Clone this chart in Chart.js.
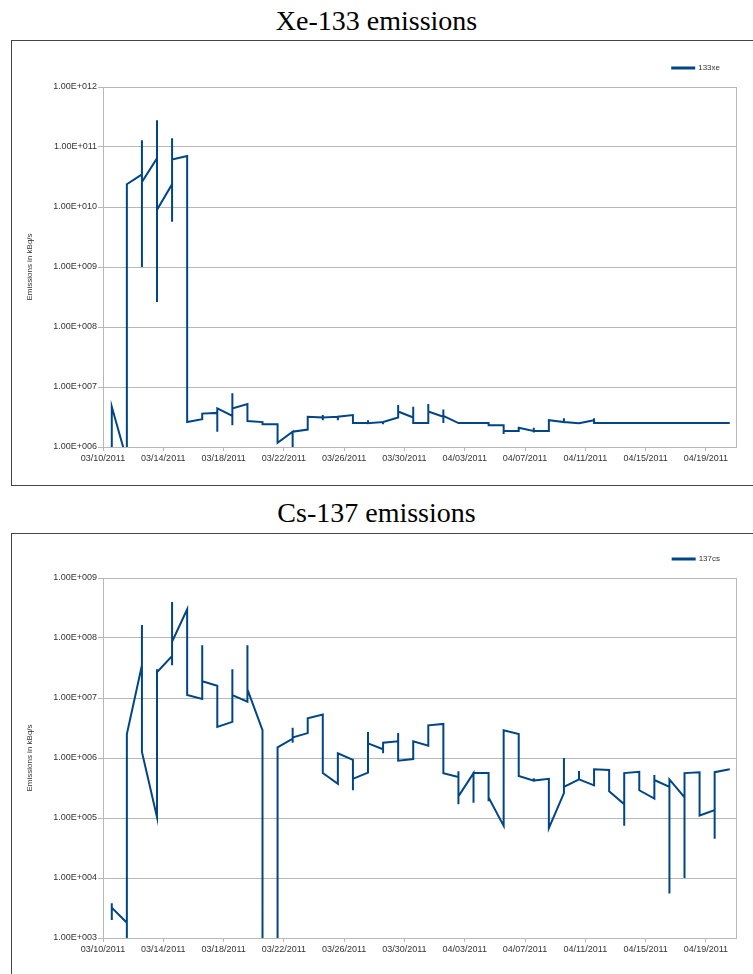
<!DOCTYPE html>
<html>
<head>
<meta charset="utf-8">
<title>Xe-133 / Cs-137 emissions</title>
<script src="https://cdn.jsdelivr.net/npm/chart.js@4.4.1/dist/chart.umd.min.js"></script>
<style>
  body { margin: 0; background: #fff; width: 753px; height: 974px; overflow: hidden; position: relative; }
  .titulo { position: absolute; left: 0; width: 753px; text-align: center; font-family: 'Liberation Serif', 'DejaVu Serif', serif; font-size: 28px; line-height: 30px; color: #000; }
  .marco { position: absolute; left: 11px; width: 760px; border: 1px solid #444; box-sizing: border-box; }
  .lienzo { position: absolute; left: 12px; }
</style>
</head>
<body>
<div class="titulo" style="top:6px;">Xe-133 emissions</div>
<div class="marco" style="top:40px; height:446px;"></div>
<div class="lienzo" style="top:48px; width:741px; height:419px;"><canvas id="chartXe"></canvas></div>

<div class="titulo" style="top:498px;">Cs-137 emissions</div>
<div class="marco" style="top:533px; height:460px;"></div>
<div class="lienzo" style="top:539px; width:741px; height:419px;"><canvas id="chartCs"></canvas></div>

<script>
// --- DATOS ---
// fechas de los ticks del eje x (cada 4 dias desde 03/10/2011)
const xTickLabels = ['03/10/2011', '03/14/2011', '03/18/2011', '03/22/2011', '03/26/2011', '03/30/2011',
                     '04/03/2011', '04/07/2011', '04/11/2011', '04/15/2011', '04/19/2011'];
const tickStepDays = 4;
const sampleHour = 14;   // hora del dia de cada muestra

// un grupo de valores por dia (kBq/s); varios valores en el mismo dia = salto vertical
const xeByDay = [
  [5e5, 4.7e6], [6e5, 2.4e10], [3.5e10, 1.3e11, 1e9, 2.6e10], [6.5e10, 2.8e11, 2.6e8, 9e9],
  [2.4e10, 1.4e11, 5.7e9, 6.2e10], [7.1e10, 2.6e6], [2.9e6, 3.6e6], [3.7e6, 1.8e6, 4.4e6],
  [3.3e6, 7.9e6, 2.3e6, 4.4e6], [5.2e6, 2.7e6], [2.6e6, 2.4e6], [2.4e6, 1.18e6],
  [1.8e6, 9e5, 1.8e6], [1.95e6, 3.2e6], [3.1e6, 3.4e6, 2.8e6, 3.1e6], [3.2e6, 2.8e6, 3.2e6],
  [3.4e6, 2.5e6], [2.5e6, 2.8e6, 2.5e6], [2.6e6, 2.4e6, 2.6e6], [3.1e6, 5e6, 3.9e6],
  [3.1e6, 4.7e6, 2.5e6], [2.5e6, 5.2e6, 3.9e6], [3.2e6, 4.2e6, 2.5e6, 3.3e6], [2.5e6],
  [2.5e6, 2.6e6, 2.5e6], [2.5e6, 2.6e6, 2.3e6], [2.3e6, 1.65e6, 1.85e6], [1.85e6, 2.1e6],
  [1.85e6, 2.1e6, 1.75e6, 1.85e6], [1.85e6, 2.8e6], [2.6e6, 3.0e6, 2.6e6], [2.5e6],
  [2.8e6, 3.0e6, 2.5e6], [2.5e6], [2.5e6], [2.5e6], [2.5e6], [2.5e6], [2.5e6], [2.5e6],
  [2.5e6], [2.5e6]
];

const csByDay = [
  [2.0e3, 3.8e3, 3.2e3], [1.8e3, 5e2, 2.5e6], [3.5e7, 1.65e8, 1.26e6], [1.03e5, 3e7, 2.7e7],
  [5e7, 4e8, 3.5e7, 8.7e7], [3e8, 1.12e7], [9.6e6, 7.6e7, 1.9e7], [1.6e7, 3.3e6],
  [4e6, 3e7, 1.12e7], [8.7e6, 7.6e7, 1.4e7], [2.9e6, 5e2], [5e2, 1.5e6],
  [2.1e6, 3.2e6, 1.8e6, 2.2e6], [2.6e6, 4.6e6], [5.3e6, 5.6e5], [3.7e5, 1.2e6],
  [9.3e5, 2.9e5, 4.5e5], [5.7e5, 2.7e6, 1.75e6], [1.4e6, 1.2e6, 1.8e6], [1.9e6, 2.6e6, 9e5],
  [9.6e5, 1.9e6], [1.6e6, 3.5e6], [3.7e6, 5.6e5], [4.8e5, 6e5, 1.7e5, 2.3e5],
  [5.6e5, 1.8e5, 5.6e5], [5.6e5, 1.9e5, 2.2e5], [7.4e4, 2.9e6], [2.5e6, 5e5],
  [4.2e5, 4.6e5, 4.2e5], [4.5e5, 6.8e4], [2.6e5, 1e6, 3.3e5], [4.4e5, 6.1e5, 4.4e5],
  [3.5e5, 6.5e5], [6.3e5, 2.8e5], [1.7e5, 7.4e4, 5.6e5], [5.9e5, 2.9e5],
  [2.1e5, 5.2e5, 4.3e5], [3.3e5, 4.4e5, 5.5e3, 4.4e5], [2.2e5, 1e4, 5.6e5], [5.8e5, 1.1e5],
  [1.35e5, 4.5e4, 5.8e5], [6.5e5]
];

// --- ESTILO ---
const AZUL = '#004586';
const GRIS = '#b8b8b8';
const TEXTO = '#333';

function aPuntos(porDia) {
  const puntos = [];
  porDia.forEach((valores, dia) => {
    valores.forEach(v => puntos.push({ x: dia + sampleHour / 24, y: v }));
  });
  return puntos;
}

function esDecada(v) {
  const l = Math.log10(v);
  return Math.abs(l - Math.round(l)) < 1e-9;
}

// borde derecho del area de trazado
const marcoPlot = {
  id: 'marcoPlot',
  beforeDatasetsDraw(chart) {
    const { ctx, chartArea } = chart;
    ctx.save();
    ctx.strokeStyle = GRIS;
    ctx.lineWidth = 1;
    ctx.beginPath();
    ctx.moveTo(Math.round(chartArea.right) + 0.5, chartArea.top);
    ctx.lineTo(Math.round(chartArea.right) + 0.5, chartArea.bottom);
    ctx.stroke();
    ctx.restore();
  }
};

function crearGrafico(canvasId, porDia, etiqueta, yMin, yMax) {
  const ctx = document.getElementById(canvasId).getContext('2d');
  return new Chart(ctx, {
    type: 'scatter',
    data: {
      datasets: [{
        label: etiqueta,
        data: aPuntos(porDia),
        showLine: true,
        borderColor: AZUL,
        backgroundColor: AZUL,
        borderWidth: 2,
        pointRadius: 0,
        tension: 0
      }]
    },
    options: {
      responsive: true,
      maintainAspectRatio: false,
      animation: false,
      layout: { padding: { left: 0, right: 17, top: 0, bottom: 0 } },
      plugins: {
        legend: {
          position: 'top',
          align: 'end',
          weight: 1600,
          labels: {
            color: TEXTO,
            font: { family: 'Liberation Sans', size: 8 },
            boxWidth: 22,
            boxHeight: 1,
            padding: 16
          }
        },
        // separador entre la leyenda y el area del grafico
        subtitle: { display: true, text: '', padding: 0, font: { size: 5, lineHeight: 1 } },
        tooltip: { enabled: false }
      },
      scales: {
        x: {
          type: 'linear',
          min: 0,
          max: 42,
          afterBuildTicks: scale => {
            scale.ticks = xTickLabels.map((_, i) => ({ value: i * tickStepDays }));
          },
          afterFit: scale => { scale.height = 20; },
          ticks: {
            autoSkip: false,
            maxRotation: 0,
            padding: 2,
            color: TEXTO,
            font: { family: 'Liberation Sans', size: 9 },
            callback: v => xTickLabels[Math.round(v / tickStepDays)]
          },
          grid: { drawOnChartArea: false, drawTicks: true, tickLength: 4, color: GRIS },
          border: { display: true, color: GRIS }
        },
        y: {
          type: 'logarithmic',
          min: yMin,
          max: yMax,
          afterBuildTicks: scale => {
            scale.ticks = scale.ticks.filter(t => esDecada(t.value));
          },
          afterFit: scale => { scale.width = 91; },
          ticks: {
            padding: 1,
            color: TEXTO,
            font: { family: 'Liberation Sans', size: 9 },
            callback: v => '1.00E+' + String(Math.round(Math.log10(v))).padStart(3, '0')
          },
          grid: { color: GRIS, tickLength: 5 },
          border: { display: true, color: GRIS },
          title: {
            display: true,
            text: 'Emissions in kBq/s',
            color: TEXTO,
            font: { family: 'Liberation Sans', size: 8 },
            padding: { top: 13, bottom: 0 }
          }
        }
      }
    },
    plugins: [marcoPlot]
  });
}

crearGrafico('chartXe', xeByDay, '133xe', 1e6, 1e12);
crearGrafico('chartCs', csByDay, '137cs', 1e3, 1e9);
</script>
</body>
</html>
